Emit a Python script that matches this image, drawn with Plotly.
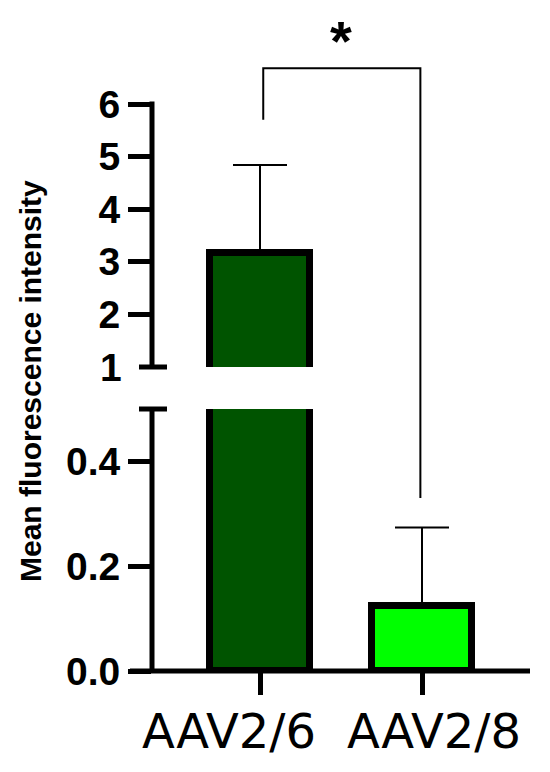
import plotly.graph_objects as go

# ---- data ----
categories = ["AAV2/6", "AAV2/8"]
means = [3.16, 0.125]
sem_upper_axis = [1.68, 0.0]     # error shown on the upper (broken) segment
sem_lower_axis = [0.0, 0.149]    # error shown on the lower segment
bar_colors = ["#005400", "#00ff00"]
lower_ticks = [0.0, 0.2, 0.4]
upper_ticks = [2, 3, 4, 5, 6]
sig_label = "*"
y_title = "Mean fluorescence intensity"

# ---- geometry of figure (pixels) ----
W, H = 550, 772
ML, MR, MT, MB = 152, 20, 20, 101
PW, PH = W - ML - MR, H - MT - MB
XR = [-0.6667, 1.6667]
LOW_R = [0, 0.5]
UP_R = [1, 6]
LOW_D = [0, 262 / PH]
UP_D = [304 / PH, 567 / PH]

def xp(v):  # data x -> paper
    return (v - XR[0]) / (XR[1] - XR[0])

def pxp(px):  # pixel x -> paper
    return (px - ML) / PW

def ypp(py):  # pixel y -> paper
    return (H - MB - py) / PH

def yl(v):  # lower axis value -> paper
    return LOW_D[0] + (v - LOW_R[0]) / (LOW_R[1] - LOW_R[0]) * (LOW_D[1] - LOW_D[0])

def yu(v):  # upper axis value -> paper
    return UP_D[0] + (v - UP_R[0]) / (UP_R[1] - UP_R[0]) * (UP_D[1] - UP_D[0])

xs = list(range(len(categories)))
tickfont = dict(family="Liberation Sans", size=39, color="black", weight="bold")

fig = go.Figure()
for yaxis, err in (("y", sem_lower_axis), ("y2", sem_upper_axis)):
    fig.add_trace(go.Bar(
        x=xs, y=means, yaxis=yaxis, width=0.62,
        marker=dict(color=bar_colors, line=dict(color="black", width=7)),
        error_y=dict(type="data", symmetric=False, array=err,
                     arrayminus=[0] * len(err), color="black",
                     thickness=2, width=27),
        showlegend=False, hoverinfo="skip",
    ))

shapes = []
# axis lines
shapes.append(dict(type="line", xref="paper", yref="paper", x0=pxp(130), x1=1,
                   y0=yl(0), y1=yl(0), line=dict(color="black", width=5)))
shapes.append(dict(type="line", xref="paper", yref="paper", x0=0, x1=0,
                   y0=yl(0), y1=yl(0.5), line=dict(color="black", width=5)))
shapes.append(dict(type="line", xref="paper", yref="paper", x0=0, x1=0,
                   y0=yu(1), y1=yu(6) + 2.5 / PH, line=dict(color="black", width=5)))
# break caps
for yy in (yl(0.5), yu(1)):
    shapes.append(dict(type="line", xref="paper", yref="paper", x0=pxp(139),
                       x1=pxp(167), y0=yy, y1=yy, line=dict(color="black", width=5)))
# significance bracket
top = yu(6.68)
shapes.append(dict(type="path", xref="paper", yref="paper",
                   path=f"M {xp(0.02)} {yu(5.7)} L {xp(0.02)} {top} L {xp(0.99)} {top} L {xp(0.99)} {yl(0.33)}",
                   line=dict(color="black", width=2)))

annotations = [
    dict(text=sig_label, xref="paper", yref="paper", x=xp(0.5), y=ypp(40),
         showarrow=False, font=dict(family="Liberation Sans", size=56, weight="bold", color="black"),
         xanchor="center", yanchor="middle"),
    dict(text="1", xref="paper", yref="paper", x=pxp(124), y=yu(1),
         showarrow=False, font=tickfont, xanchor="right", yanchor="middle"),
    dict(text=y_title, xref="paper", yref="paper", x=pxp(30), y=ypp(381),
         textangle=-90, showarrow=False,
         font=dict(family="Liberation Sans", size=30, color="black", weight="bold"),
         xanchor="center", yanchor="middle"),
]
label_px = [229, 434]
for lab, px in zip(categories, label_px):
    annotations.append(dict(text=lab, xref="paper", yref="paper", x=pxp(px), y=ypp(731),
                            showarrow=False,
                            font=dict(family="DejaVu Sans", size=48, color="black"),
                            xanchor="center", yanchor="middle"))

fig.update_layout(
    width=W, height=H, autosize=False,
    margin=dict(l=ML, r=MR, t=MT, b=MB, pad=0, autoexpand=False),
    paper_bgcolor="white", plot_bgcolor="white",
    bargap=0,
    xaxis=dict(range=XR, showgrid=False, zeroline=False, showline=False,
               automargin=False, fixedrange=True,
               tickvals=xs, ticktext=["", ""], ticks="outside", ticklen=23,
               tickwidth=5, tickcolor="black"),
    yaxis=dict(domain=LOW_D, range=LOW_R, showgrid=False, zeroline=False,
               showline=False, automargin=False, fixedrange=True,
               tickvals=lower_ticks, tickformat=".1f",
               ticks="outside", ticklen=23, tickwidth=5, tickcolor="black",
               tickfont=tickfont),
    yaxis2=dict(domain=UP_D, range=UP_R, showgrid=False, zeroline=False,
                showline=False, automargin=False, fixedrange=True,
                tickvals=upper_ticks, ticks="outside",
                ticklen=23, tickwidth=5, tickcolor="black", tickfont=tickfont),
    shapes=shapes,
    annotations=annotations,
)

fig.write_html("out.html", config={"displayModeBar": False},
               post_script="document.body.style.margin='0';")
